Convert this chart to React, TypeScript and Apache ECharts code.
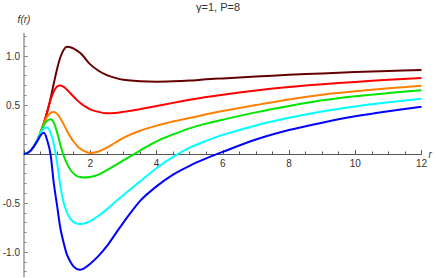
import React, { useEffect, useRef } from "react";
import * as echarts from "echarts";

const rValues = [0, 0.1, 0.2, 0.3, 0.4, 0.5, 0.6, 0.7, 0.8, 0.9, 1.0, 1.1, 1.2, 1.3, 1.4, 1.5, 1.6, 1.7, 1.8, 2.0, 2.25, 2.5, 2.75, 3.0, 3.5, 4.0, 4.5, 5.0, 5.5, 6.0, 7.0, 8.0, 9.0, 10.0, 11.0, 12.0];

const maroonValues = [0, 0.009, 0.035, 0.079, 0.14, 0.22, 0.315, 0.43, 0.565, 0.72, 0.87, 0.99, 1.065, 1.095, 1.09, 1.075, 1.055, 1.03, 0.995, 0.915, 0.85, 0.805, 0.777, 0.758, 0.743, 0.738, 0.742, 0.75, 0.762, 0.772, 0.79, 0.808, 0.823, 0.836, 0.847, 0.857];
const redValues = [0, 0.009, 0.035, 0.079, 0.14, 0.22, 0.315, 0.43, 0.55, 0.64, 0.69, 0.7, 0.685, 0.655, 0.62, 0.585, 0.55, 0.52, 0.495, 0.455, 0.43, 0.415, 0.418, 0.43, 0.458, 0.49, 0.522, 0.553, 0.582, 0.605, 0.648, 0.684, 0.712, 0.736, 0.757, 0.775];
const orangeValues = [0, 0.009, 0.035, 0.079, 0.14, 0.22, 0.31, 0.38, 0.42, 0.43, 0.41, 0.365, 0.3, 0.235, 0.175, 0.125, 0.085, 0.055, 0.032, 0.01, 0.025, 0.065, 0.115, 0.165, 0.237, 0.29, 0.332, 0.367, 0.405, 0.44, 0.5, 0.557, 0.605, 0.64, 0.67, 0.697];
const greenValues = [0, 0.009, 0.035, 0.079, 0.14, 0.22, 0.295, 0.34, 0.355, 0.32, 0.22, 0.09, -0.02, -0.1, -0.16, -0.2, -0.225, -0.235, -0.24, -0.235, -0.21, -0.165, -0.115, -0.065, 0.035, 0.13, 0.2, 0.262, 0.31, 0.35, 0.425, 0.49, 0.548, 0.59, 0.622, 0.65];
const cyanValues = [0, 0.009, 0.035, 0.079, 0.14, 0.215, 0.26, 0.27, 0.22, 0.1, -0.09, -0.33, -0.5, -0.6, -0.66, -0.695, -0.71, -0.715, -0.71, -0.685, -0.63, -0.565, -0.49, -0.42, -0.28, -0.145, -0.03, 0.065, 0.134, 0.195, 0.292, 0.37, 0.435, 0.486, 0.528, 0.565];
const blueValues = [0, 0.009, 0.035, 0.079, 0.13, 0.19, 0.217, 0.14, 0.0, -0.3, -0.53, -0.76, -0.91, -1.03, -1.1, -1.15, -1.175, -1.18, -1.17, -1.12, -1.04, -0.94, -0.82, -0.7, -0.48, -0.33, -0.21, -0.12, -0.045, 0.022, 0.148, 0.245, 0.32, 0.385, 0.437, 0.483];

const xTickLabels = [2, 4, 6, 8, 10, 12];
const yTickLabels = [-1, -0.5, 0.5, 1];
const yMinorTicks = [-1.2, -1.1, -0.9, -0.8, -0.7, -0.6, -0.4, -0.3, -0.2, -0.1, 0.1, 0.2, 0.3, 0.4, 0.6, 0.7, 0.8, 0.9, 1.1, 1.2];

const FONT = "'Liberation Sans', Arial, sans-serif";

const seriesDefs = [
  { name: "a", values: maroonValues, color: "#660000" },
  { name: "b", values: redValues, color: "#ff0000" },
  { name: "c", values: orangeValues, color: "#ff8000" },
  { name: "d", values: greenValues, color: "#00e600" },
  { name: "e", values: cyanValues, color: "#00ffff" },
  { name: "f", values: blueValues, color: "#0000ff" },
];

export default function App() {
  const ref = useRef<HTMLDivElement>(null);
  useEffect(() => {
    document.body.style.margin = "0";
    const chart = echarts.init(ref.current!, null, { renderer: "svg" });
    chart.setOption({
      animation: false,
      backgroundColor: "#ffffff",
      title: {
        text: "γ=1, P=8",
        left: 196,
        top: 1,
        padding: 0,
        textStyle: { fontSize: 11, fontWeight: "normal", color: "#333", fontFamily: FONT },
      },
      grid: [
        { left: 24, right: 14.5, top: 33.5, bottom: 1.5, containLabel: false, outerBoundsMode: "none" },
        { left: 24, right: 14.5, top: 100, bottom: 124, containLabel: false, outerBoundsMode: "none" },
      ],
      xAxis: [
        {
          type: "value",
          gridIndex: 0,
          min: 0,
          max: 12,
          interval: 2,
          name: "r",
          nameLocation: "end",
          nameGap: 7,
          nameTextStyle: { fontStyle: "italic", fontSize: 10, color: "#333", fontFamily: FONT },
          axisLine: { onZero: true, lineStyle: { color: "#555", width: 1 } },
          axisTick: { inside: true, length: 4, lineStyle: { color: "#555" } },
          minorTick: { show: true, splitNumber: 4, length: 2.5, lineStyle: { color: "#555" } },
          axisLabel: { show: false },
          splitLine: { show: false },
        },
        {
          type: "value",
          gridIndex: 1,
          min: 0,
          max: 12,
          position: "bottom",
          axisLine: { show: false, onZero: false },
          axisTick: { show: false },
          axisLabel: {
            customValues: xTickLabels,
            margin: 4,
            fontSize: 10,
            color: "#333",
            fontFamily: FONT,
          },
          splitLine: { show: false },
        },
      ],
      yAxis: [
        {
          type: "value",
          gridIndex: 0,
          min: -1.25,
          max: 1.23,
          position: "left",
          name: "f(r)",
          nameLocation: "end",
          nameGap: 9,
          nameTextStyle: { fontStyle: "italic", fontSize: 10, color: "#333", fontFamily: FONT, align: "center" },
          axisLine: { show: true, onZero: true, lineStyle: { color: "#999", width: 1.5 } },
          axisTick: { show: true, inside: true, length: 4, customValues: yTickLabels, lineStyle: { color: "#888" } },
          axisLabel: {
            customValues: yTickLabels,
            margin: 4,
            fontSize: 10,
            color: "#333",
            fontFamily: FONT,
            formatter: (v: number) => v.toFixed(1),
          },
          splitLine: { show: false },
        },
        {
          type: "value",
          gridIndex: 0,
          min: -1.25,
          max: 1.23,
          position: "left",
          axisLine: { show: false, onZero: false },
          axisTick: { show: true, inside: true, length: 2.5, customValues: yMinorTicks, lineStyle: { color: "#888" } },
          axisLabel: { show: false },
          splitLine: { show: false },
        },
        {
          type: "value",
          gridIndex: 1,
          min: 0,
          max: 1,
          show: false,
        },
      ],
      series: seriesDefs.map((s) => ({
        name: s.name,
        type: "line",
        xAxisIndex: 0,
        yAxisIndex: 0,
        data: rValues.map((r, i) => [r, s.values[i]]),
        showSymbol: false,
        smooth: 0.3,
        lineStyle: { color: s.color, width: 2 },
        itemStyle: { color: s.color },
      })),
    });
    return () => chart.dispose();
  }, []);
  return <div ref={ref} style={{ width: 436, height: 278 }} />;
}
